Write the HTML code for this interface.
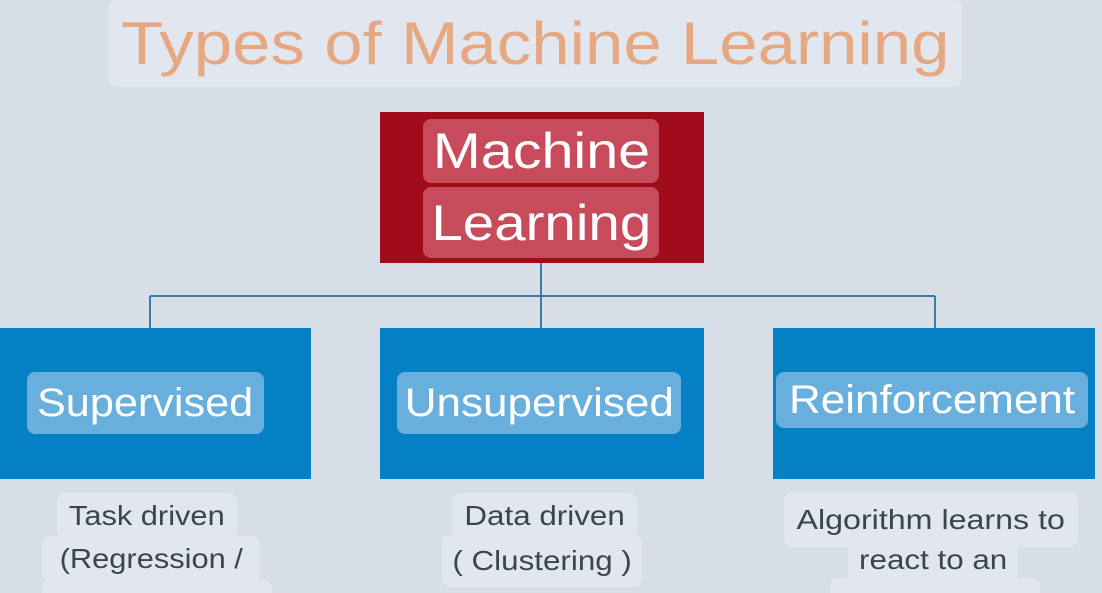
<!DOCTYPE html>
<html><head><style>
body{margin:0;width:1102px;height:593px;overflow:hidden;background:#d7dee8;font-family:"Liberation Sans",sans-serif;position:relative}
.a{position:absolute}
.t{position:absolute;display:flex;align-items:center;justify-content:center;white-space:nowrap}
.t span{display:inline-block}
</style></head><body>
<div class="a" style="left:0;top:0;width:1102px;height:593px;border-radius:18px 18px 0 0;background:#d7dee8"></div>
<div class="t" style="left:108px;top:0;width:854px;height:87px;background:#e1e6ef;border-radius:8px;color:#e6a882;font-size:60px"><span style="transform:scaleX(1.15)">Types of Machine Learning</span></div>

<div class="a" style="left:380px;top:112px;width:324px;height:151px;background:#a10c1b"></div>
<div class="t" style="left:423px;top:119px;width:236px;height:64px;background:#c84b5c;border-radius:8px;color:#fff;font-size:50px"><span style="transform:scaleX(1.15)">Machine</span></div>
<div class="t" style="left:423px;top:187px;width:236px;height:71px;background:#c84b5c;border-radius:8px;color:#fff;font-size:50px"><span style="transform:scaleX(1.13)">Learning</span></div>

<svg class="a" style="left:0;top:0" width="1102" height="593">
<g stroke="#3f7aa6" stroke-width="2" fill="none">
<line x1="541" y1="263" x2="541" y2="328"/>
<line x1="150" y1="296" x2="935" y2="296"/>
<line x1="150" y1="296" x2="150" y2="328"/>
<line x1="935" y1="296" x2="935" y2="328"/>
</g></svg>

<div class="a" style="left:0;top:328px;width:311px;height:151px;background:#0580c5"></div>
<div class="a" style="left:380px;top:328px;width:324px;height:151px;background:#0580c5"></div>
<div class="a" style="left:773px;top:328px;width:322px;height:151px;background:#0580c5"></div>
<div class="t" style="left:27px;top:372px;width:237px;height:62px;background:#68afdd;border-radius:8px;color:#fff;font-size:40px"><span style="transform:scaleX(1.08)">Supervised</span></div>
<div class="t" style="left:397px;top:372px;width:284px;height:62px;background:#68afdd;border-radius:8px;color:#fff;font-size:40px"><span style="transform:scaleX(1.1)">Unsupervised</span></div>
<div class="t" style="left:776px;top:372px;width:312px;height:56px;background:#68afdd;border-radius:8px;color:#fff;font-size:40px"><span style="transform:scaleX(1.1)">Reinforcement</span></div>

<div class="t" style="left:57px;top:493px;width:180px;height:46px;background:#e2e7ef;border-radius:8px;color:#3a4552;font-size:28px"><span style="transform:scaleX(1.1)">Task driven</span></div>
<div class="t" style="left:42px;top:536px;width:218px;height:46px;background:#e2e7ef;border-radius:8px;color:#3a4552;font-size:28px"><span style="transform:scaleX(1.1)">(Regression /</span></div>
<div class="a" style="left:42px;top:580px;width:230px;height:13px;background:#e2e7ef;border-radius:8px 8px 0 0"></div>
<div class="t" style="left:452px;top:493px;width:185px;height:46px;background:#e2e7ef;border-radius:8px;color:#3a4552;font-size:28px"><span style="transform:scaleX(1.12)">Data driven</span></div>
<div class="t" style="left:442px;top:535px;width:200px;height:52px;background:#e2e7ef;border-radius:8px;color:#3a4552;font-size:28px"><span style="transform:scaleX(1.12)">( Clustering )</span></div>
<div class="t" style="left:784px;top:492px;width:294px;height:55px;background:#e2e7ef;border-radius:8px;color:#3a4552;font-size:28px"><span style="transform:scaleX(1.15)">Algorithm learns to</span></div>
<div class="t" style="left:848px;top:538px;width:170px;height:44px;background:#e2e7ef;border-radius:8px;color:#3a4552;font-size:28px"><span style="transform:scaleX(1.12)">react to an</span></div>
<div class="a" style="left:830px;top:578px;width:210px;height:15px;background:#e2e7ef;border-radius:8px 8px 0 0"></div>
</body></html>
